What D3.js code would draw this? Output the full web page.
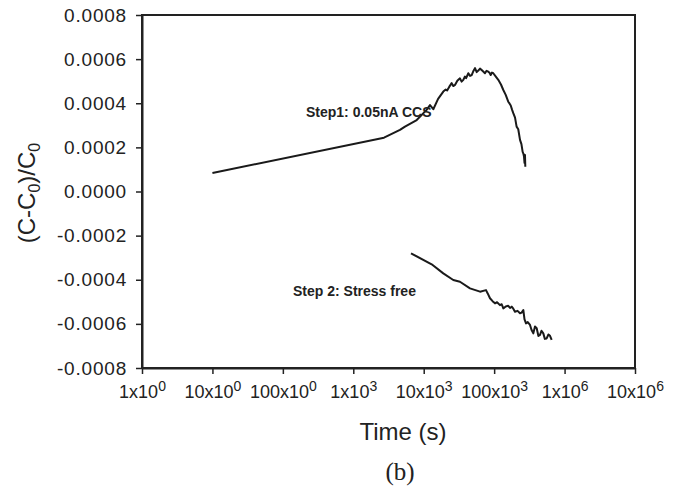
<!DOCTYPE html>
<html>
<head>
<meta charset="utf-8">
<script src="https://cdn.jsdelivr.net/npm/d3@7"></script>
<style>
  body { margin: 0; background: #fff; }
  svg { display: block; }
  text { font-family: "Liberation Sans", Arial, sans-serif; fill: #222; }
</style>
</head>
<body>
<script>
// chart size
var width = 686;
var height = 489;

// step 1: 0.05nA CCS
var step1Time = [10, 2730, 4600, 5420, 7950, 11000, 12280, 13680, 16000, 18970, 20500, 21500, 23000, 24950, 26300,
  27800, 30000, 32700, 34500, 36500, 38500, 40000, 43000, 45500, 48000, 50500, 53500, 56500, 59600, 63000, 66500,
  70000, 74100, 78000, 82600, 86000, 89300, 93000, 97200, 105000, 114500, 125000, 135000, 146000, 158600, 166000,
  172000, 180000, 187000, 198000, 208400, 220000, 233000, 244000, 254000, 260000, 265400, 270000, 274000, 277000];
var step1Val = [0.000084, 0.000244, 0.000279, 0.000294, 0.000324, 0.00037, 0.000392, 0.000373, 0.00042, 0.000453,
  0.000462, 0.000458, 0.000474, 0.000491, 0.000478, 0.000483, 0.000502, 0.000513, 0.000498, 0.000506, 0.000521,
  0.000514, 0.000536, 0.000524, 0.000528, 0.000545, 0.000559, 0.000541, 0.000548, 0.000557, 0.000551, 0.000544,
  0.000536, 0.000547, 0.000543, 0.000538, 0.000528, 0.000539, 0.000536, 0.000522, 0.000506, 0.000485, 0.00046,
  0.000438, 0.000407, 0.000398, 0.00039, 0.00037, 0.000355, 0.000335, 0.000294, 0.000282, 0.000234, 0.000215,
  0.00018, 0.000172, 0.000158, 0.00013, 0.000166, 0.000112];

// step 2: stress free
var step2Time = [6600, 12970, 18970, 26300, 32700, 45400, 63000, 76600, 81000, 87300, 95000, 102800, 110000, 121000,
  128000, 135000, 146000, 158600, 168000, 177500, 187000, 197700, 215000, 233000, 246000, 259600, 270000, 283400,
  300000, 323000, 340000, 360000, 380000, 402000, 425000, 448000, 470000, 499000, 525000, 557000, 590000, 621000, 656000];
var step2Val = [-0.00028, -0.00033, -0.000371, -0.000401, -0.000409, -0.000439, -0.000454, -0.000447, -0.000462,
  -0.000484, -0.000497, -0.000507, -0.000502, -0.000515, -0.000511, -0.00053, -0.000521, -0.000518, -0.000528,
  -0.000522, -0.000531, -0.000545, -0.000541, -0.000552, -0.000549, -0.000537, -0.00058, -0.000598, -0.000592,
  -0.000605, -0.000628, -0.000643, -0.000612, -0.00062, -0.000655, -0.00065, -0.000631, -0.000643, -0.000668,
  -0.000666, -0.000648, -0.000654, -0.000673];

// tick labels
var xTickValues = [1, 10, 100, 1e3, 1e4, 1e5, 1e6, 1e7];
var xTickMant = ['1', '10', '100', '1', '10', '100', '1', '10'];
var xTickExp = ['0', '0', '0', '3', '3', '3', '6', '6'];
var yTickValues = [-0.0008, -0.0006, -0.0004, -0.0002, 0, 0.0002, 0.0004, 0.0006, 0.0008];
var yTickLabels = ['-0.0008', '-0.0006', '-0.0004', '-0.0002', '0.0000', '0.0002', '0.0004', '0.0006', '0.0008'];

var padding = { top: 15, right: 51, bottom: 121, left: 142 };

var svg = d3.select('body')
  .append('svg')
  .attr('width', width)
  .attr('height', height);

var xScale = d3.scaleLog()
  .domain([1, 1e7])
  .range([padding.left, width - padding.right]);

var yScale = d3.scaleLinear()
  .domain([-0.0008, 0.0008])
  .range([height - padding.bottom, padding.top]);

// frame
svg.append('rect')
  .attr('x', padding.left)
  .attr('y', padding.top)
  .attr('width', width - padding.left - padding.right)
  .attr('height', height - padding.top - padding.bottom)
  .attr('fill', 'none')
  .attr('stroke', '#222')
  .attr('stroke-width', 2);

var xAxis = d3.axisBottom(xScale)
  .tickValues(xTickValues)
  .tickSize(6)
  .tickSizeOuter(0)
  .tickPadding(10)
  .tickFormat(function () { return ''; });

var yAxis = d3.axisLeft(yScale)
  .tickValues(yTickValues)
  .tickSize(6)
  .tickSizeOuter(0)
  .tickPadding(9)
  .tickFormat(function (d, i) { return yTickLabels[i]; });

var gx = svg.append('g')
  .attr('class', 'xaxis')
  .attr('transform', 'translate(0,' + (height - padding.bottom) + ')')
  .call(xAxis);

var gy = svg.append('g')
  .attr('class', 'yaxis')
  .attr('transform', 'translate(' + padding.left + ',0)')
  .call(yAxis);

svg.selectAll('.domain').attr('stroke', '#222').attr('stroke-width', 2);
svg.selectAll('.tick line').attr('stroke', '#222').attr('stroke-width', 1.5);

gy.selectAll('text')
  .attr('font-size', 19)
  .attr('letter-spacing', 0.8)
  .style('fill', '#222');

// x labels with superscripts
gx.selectAll('.tick text')
  .attr('dy', null)
  .attr('y', 30)
  .attr('font-size', 18)
  .style('fill', '#222')
  .each(function (d, i) {
    var t = d3.select(this);
    t.append('tspan').text(xTickMant[i] + 'x10');
    t.append('tspan')
      .attr('font-size', 14)
      .attr('dy', -7)
      .text(xTickExp[i]);
  });

var line = d3.line()
  .x(function (d) { return xScale(d[0]); })
  .y(function (d) { return yScale(d[1]); });

svg.append('path')
  .attr('class', 'line-path')
  .attr('fill', 'none')
  .attr('stroke', '#1a1a1a')
  .attr('stroke-width', 2)
  .attr('stroke-linejoin', 'round')
  .attr('d', line(step1Time.map(function (t, i) { return [t, step1Val[i]]; })));

svg.append('path')
  .attr('class', 'line-path')
  .attr('fill', 'none')
  .attr('stroke', '#1a1a1a')
  .attr('stroke-width', 2)
  .attr('stroke-linejoin', 'round')
  .attr('d', line(step2Time.map(function (t, i) { return [t, step2Val[i]]; })));

// annotations
svg.append('text')
  .attr('x', 306)
  .attr('y', 117)
  .attr('font-size', 14)
  .attr('font-weight', 'bold')
  .text('Step1: 0.05nA CCS');

svg.append('text')
  .attr('x', 293)
  .attr('y', 296)
  .attr('font-size', 14)
  .attr('font-weight', 'bold')
  .text('Step 2: Stress free');

// axis titles
svg.append('text')
  .attr('x', 403)
  .attr('y', 440)
  .attr('text-anchor', 'middle')
  .attr('font-size', 24)
  .text('Time (s)');

var yt = svg.append('text')
  .attr('transform', 'translate(35,193) rotate(-90)')
  .attr('text-anchor', 'middle')
  .attr('font-size', 24);
yt.append('tspan').text('(C-C');
yt.append('tspan').attr('font-size', 16).attr('dy', 5).text('0');
yt.append('tspan').attr('dy', -5).text(')/C');
yt.append('tspan').attr('font-size', 16).attr('dy', 5).text('0');

svg.append('text')
  .attr('x', 400)
  .attr('y', 480)
  .attr('text-anchor', 'middle')
  .attr('font-size', 25)
  .style('font-family', '"Liberation Serif", "Times New Roman", serif')
  .text('(b)');
</script>
</body>
</html>
